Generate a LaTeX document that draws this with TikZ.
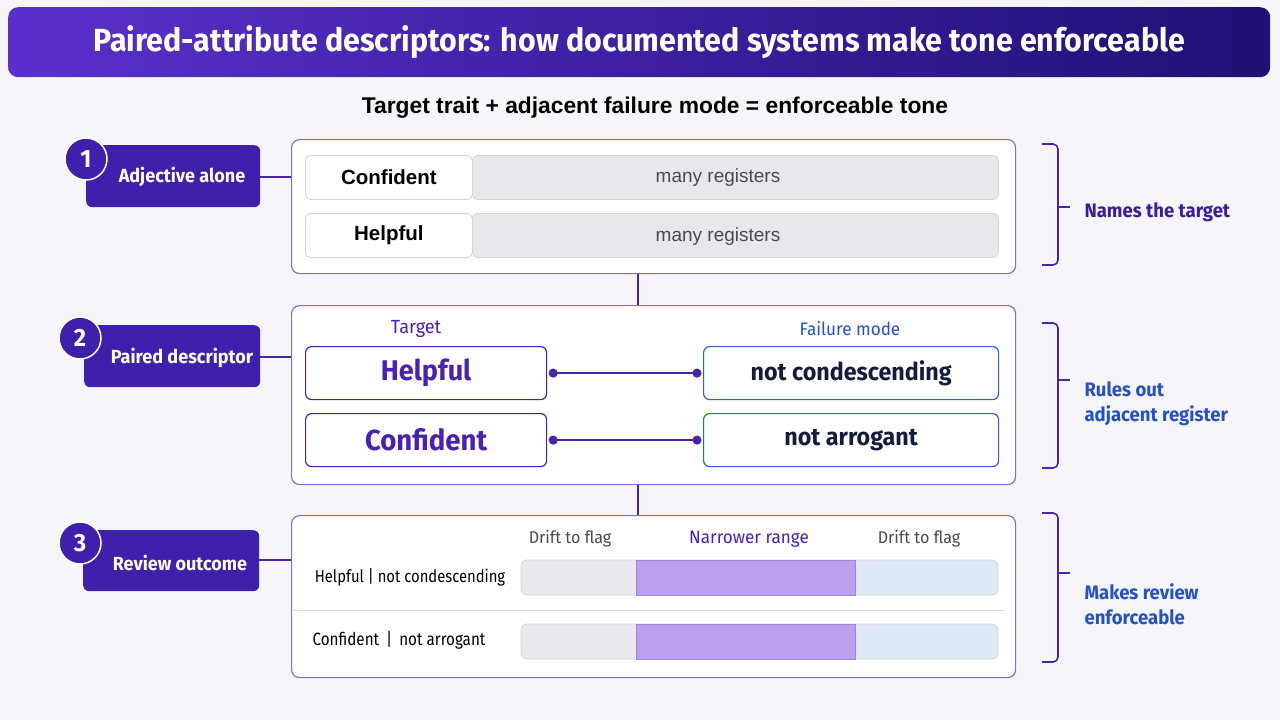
\documentclass[tikz,border=0pt]{standalone}
\usepackage{fontspec}
\setmainfont{Fira Sans}[FakeStretch=0.95]
\newfontfamily\condf{Fira Sans}[FakeStretch=0.86]
\newfontfamily\helv{Liberation Sans}
\usetikzlibrary{arrows.meta}
\definecolor{bgc}{HTML}{F6F6FA}
\definecolor{stepc}{HTML}{3F20AC}
\definecolor{titL}{HTML}{5A30CC}
\definecolor{titR}{HTML}{1F1075}
\definecolor{boxb}{HTML}{8A6CCF}
\definecolor{linec}{HTML}{4A23A8}
\definecolor{tgt}{HTML}{4B1FB5}
\definecolor{blueb}{HTML}{2C62D4}
\definecolor{bluet}{HTML}{2450C8}
\definecolor{navy}{HTML}{141B3D}
\definecolor{cellg}{HTML}{E8E8EC}
\definecolor{cellb}{HTML}{D4D4DA}
\definecolor{greyt}{HTML}{4A4A52}
\definecolor{barg}{HTML}{E9E9ED}
\definecolor{barp}{HTML}{B9A0EE}
\definecolor{barpb}{HTML}{A182E4}
\definecolor{barb}{HTML}{DFE8F5}
\definecolor{sepc}{HTML}{DCDCE2}
\definecolor{namec}{HTML}{3B1C9E}
\tikzset{
  panel/.style={draw=boxb, line width=1.2pt, fill=white, rounded corners=8pt, anchor=north west, inner sep=0pt},
  stepbox/.style={fill=stepc, rounded corners=6pt, inner sep=0pt},
  steptext/.style={text=white, font=\bfseries\fontsize{19}{22}\selectfont},
  stepnum/.style={circle, fill=stepc, draw=white, line width=1.5pt, minimum size=42pt, inner sep=0pt, text=white, font=\bfseries\fontsize{25}{28}\selectfont},
  link/.style={draw=linec, line width=2pt},
  wordcell/.style={draw=cellb, line width=0.8pt, fill=white, rounded corners=5pt, anchor=north west, minimum height=44pt, minimum width=167pt, inner sep=0pt, font=\helv\bfseries\fontsize{20.5}{24}\selectfont, text=black},
  regcell/.style={draw=cellb, line width=0.8pt, fill=cellg, rounded corners=5pt, anchor=north west, minimum height=44pt, minimum width=526pt, inner sep=0pt},
  regtext/.style={font=\helv\fontsize{19}{22}\selectfont, text=greyt},
  tgtbox/.style={draw=tgt, line width=1.2pt, fill=white, rounded corners=6pt, anchor=north west, minimum width=241pt, minimum height=53pt, inner sep=0pt, text=tgt, font=\bfseries\fontsize{28.5}{32}\selectfont},
  failbox/.style={draw=blueb, line width=1.2pt, fill=white, rounded corners=6pt, anchor=north west, minimum width=295pt, minimum height=53pt, inner sep=0pt, text=navy, font=\bfseries\fontsize{24.5}{28}\selectfont},
  pairline/.style={draw=linec, line width=2pt, {Circle[length=9pt]}-{Circle[length=9pt]}, shorten <=1.5pt, shorten >=1.5pt},
  colhead/.style={font=\fontsize{17}{20}\selectfont},
  rowlab/.style={font=\condf\fontsize{17.2}{20}\selectfont, text=black},
  brk/.style={draw=linec, line width=1.6pt, rounded corners=5pt},
  side/.style={anchor=west, font=\bfseries\fontsize{19.5}{25}\selectfont, align=left}
}
\begin{document}
\begin{tikzpicture}[x=1pt,y=-1pt]
\useasboundingbox[fill=bgc] (0,0) rectangle (1280,720);
% title
\node[rounded corners=10pt, left color=titL, right color=titR, minimum width=1262pt, minimum height=70pt, inner sep=0pt, anchor=north west, text=white, font=\bfseries\fontsize{32}{36}\selectfont] (title) at (8,7) {Paired-attribute descriptors: how documented systems make tone enforceable};
\node[font=\helv\bfseries\fontsize{22.8}{26}\selectfont, text=black] (sub) at (655,108) {Target trait + adjacent failure mode = enforceable tone};

% panels
\node[panel, minimum width=724pt, minimum height=134pt] (p1) at (291,139) {};
\node[panel, minimum width=724pt, minimum height=179pt] (p2) at (291,305) {};
\node[panel, minimum width=724pt, minimum height=162pt] (p3) at (291,515) {};
\draw[link] (p1.south -| 638,0) -- (p2.north -| 638,0);
\draw[link] (p2.south -| 638,0) -- (p3.north -| 638,0);

% panel 1
\node[regcell] (r1) at (472,155) {};
\node[regtext] (rt1) at (718,178) {many registers};
\node[wordcell] (w1) at (305,155) {Confident};
\node[regcell] (r2) at (472,213) {};
\node[regtext] (rt2) at (718,237) {many registers};
\node[wordcell] (w2) at (305,213) {Helpful};

% panel 2
\node[colhead, text=tgt, font=\fontsize{19}{22}\selectfont] (th) at (416,329) {Target};
\node[colhead, text=bluet, font=\fontsize{18}{22}\selectfont] (fh) at (850,329) {Failure mode};
\node[tgtbox] (t1) at (305,346) {Helpful};
\node[failbox] (f1) at (703,346) {not condescending};
\node[tgtbox, font=\bfseries\fontsize{29}{32}\selectfont] (t2) at (305,413) {Confident};
\node[failbox] (f2) at (703,413) {not arrogant};
\draw[pairline] (t1.east) -- (f1.west);
\draw[pairline] (t2.east) -- (f2.west);

% panel 3
\node[colhead, text=greyt] (d1) at (570,539) {Drift to flag};
\node[colhead, text=tgt, font=\fontsize{18}{22}\selectfont] (nr) at (749,539) {Narrower range};
\node[colhead, text=greyt] (d2) at (919,539) {Drift to flag};
\node[rowlab] (l1) at (410,577) {Helpful | not condescending};
\node[rowlab, font=\condf\fontsize{17.7}{20}\selectfont] (l2) at (399,640) {Confident \,|\, not arrogant};
\foreach \yy in {560,624}{
  \begin{scope}
    \clip[rounded corners=6pt] (521,\yy) rectangle (998,\yy+35);
    \fill[barg] (521,\yy) rectangle (636,\yy+35);
    \fill[barb] (855,\yy) rectangle (998,\yy+35);
  \end{scope}
  \draw[cellb, line width=0.8pt, rounded corners=6pt] (521,\yy) rectangle (998,\yy+35);
  \draw[barpb, fill=barp, line width=1pt] (636,\yy) rectangle (855,\yy+35);
}
\draw[sepc, line width=1pt] (293,610) -- (1005,610);

% steps
\node[stepbox, minimum width=174pt, minimum height=62pt, anchor=north west] (s1) at (86,145) {};
\node[steptext] (st1) at (182,177) {Adjective alone};
\node[stepnum] (n1) at (86,159) {1};
\node[stepbox, minimum width=176pt, minimum height=62pt, anchor=north west] (s2) at (84,325) {};
\node[steptext] (st2) at (182,358) {Paired descriptor};
\node[stepnum] (n2) at (80,338) {2};
\node[stepbox, minimum width=176pt, minimum height=61pt, anchor=north west] (s3) at (83,530) {};
\node[steptext] (st3) at (180,563) {Review outcome};
\node[stepnum] (n3) at (80,543) {3};
\draw[link] (s1.east |- 0,177) -- (p1.west |- 0,177);
\draw[link] (s2.east |- 0,357) -- (p2.west |- 0,357);
\draw[link] (s3.east |- 0,560) -- (p3.west |- 0,560);

% brackets
\draw[brk] (1042,144) -- (1058,144) -- (1058,265) -- (1042,265);
\draw[brk] (1058,207) -- (1070,207);
\draw[brk] (1042,323) -- (1058,323) -- (1058,468) -- (1042,468);
\draw[brk] (1058,380) -- (1070,380);
\draw[brk] (1042,513) -- (1058,513) -- (1058,662) -- (1042,662);
\draw[brk] (1058,573) -- (1070,573);
\node[side, text=namec] (b1) at (1081,212) {Names the target};
\node[side, text=bluet] (b2) at (1081,404) {Rules out\\adjacent register};
\node[side, text=bluet] (b3) at (1081,604) {Makes review\\enforceable};
\end{tikzpicture}
\end{document}
